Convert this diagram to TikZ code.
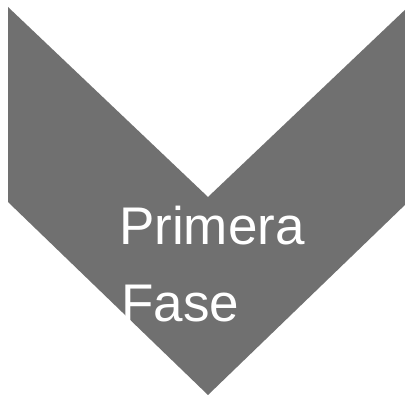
\documentclass[tikz,border=0pt]{standalone}
\usepackage{fontspec}
\setmainfont{Liberation Sans}
\definecolor{chevgray}{RGB}{112,112,112}
\tikzset{
  chevron/.style={fill=chevgray, draw=none},
  label/.style={anchor=base west, inner sep=0pt, text=white, font=\fontsize{53}{60}\selectfont}
}
\begin{document}
\begin{tikzpicture}[x=1pt,y=1pt]
\useasboundingbox (0,0) rectangle (405,396);
\fill[white] (0,0) rectangle (405,396);
\begin{scope}
\clip (0,0) rectangle (405,396);
\fill[chevron] (8,389) -- (208,199) -- (408,389) -- (408,194) -- (208,1) -- (8,194) -- cycle;
\end{scope}
\node[label] (t1) at (119,151) {Primera};
\node[label] (t2) at (121,74) {Fase};
\end{tikzpicture}
\end{document}
